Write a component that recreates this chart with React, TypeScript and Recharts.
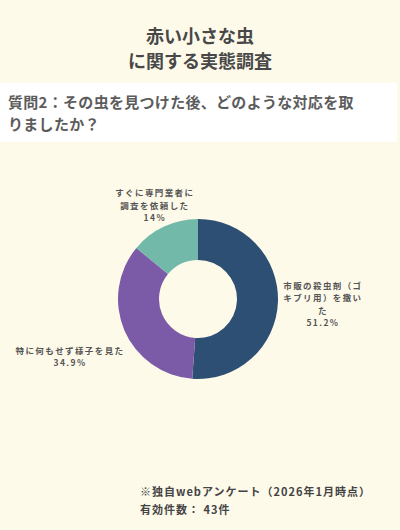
import { PieChart, Pie, Cell } from 'recharts';

const categories = [
  '市販の殺虫剤（ゴ\nキブリ用）を撒い\nた',
  '特に何もせず様子を見た',
  'すぐに専門業者に\n調査を依頼した',
];
const shares = [51.2, 34.9, 14];
const sliceColors = ['#2d4f74', '#7b5aa8', '#72b9a9'];
// small hand nudges so the labels sit where the original put them
const labelNudge = [
  [0, 0],
  [-13, 8],
  [10, 19],
];

const data = categories.map((name, i) => ({ name, value: shares[i] }));

const FONT = '"Noto Sans CJK JP", "Noto Sans", sans-serif';
const RADIAN = Math.PI / 180;

const renderLabel = (props: any) => {
  const { cx, cy, midAngle, outerRadius, index } = props;
  const r = outerRadius + 45;
  const x = cx + r * Math.cos(-midAngle * RADIAN) + labelNudge[index][0];
  const y = cy + r * Math.sin(-midAngle * RADIAN) + labelNudge[index][1];
  const lines = [...categories[index].split('\n'), `${shares[index]}%`];
  const lh = 12.4;
  const top = y - ((lines.length - 1) * lh) / 2;
  return (
    <text
      x={x}
      y={top}
      textAnchor="middle"
      dominantBaseline="central"
      fill="#555"
      fontSize={8.5}
      fontWeight={700}
      fontFamily={FONT}
      style={{ letterSpacing: 1.4 }}
    >
      {lines.map((l, i) => (
        <tspan key={i} x={x} y={top + i * lh}>
          {l}
        </tspan>
      ))}
    </text>
  );
};

export default function App() {
  return (
    <div
      style={{
        position: 'absolute',
        left: 0,
        top: 0,
        width: 400,
        height: 530,
        background: '#fefaea',
        fontFamily: FONT,
        overflow: 'hidden',
      }}
    >
      <div
        style={{
          position: 'absolute',
          top: 23,
          left: 0,
          width: 400,
          textAlign: 'center',
          fontSize: 18,
          lineHeight: '25px',
          fontWeight: 700,
          color: '#484848',
        }}
      >
        赤い小さな虫
        <br />
        に関する実態調査
      </div>
      <div
        style={{
          position: 'absolute',
          top: 83,
          left: 0,
          width: 397,
          height: 59,
          background: '#ffffff',
        }}
      />
      <div
        style={{
          position: 'absolute',
          top: 91,
          left: 8,
          width: 385,
          fontSize: 15,
          lineHeight: '22px',
          fontWeight: 700,
          color: '#5c5c5c',
          letterSpacing: 0.3,
        }}
      >
        質問2：その虫を見つけた後、どのような対応を取
        <br />
        りましたか？
      </div>
      <div style={{ position: 'absolute', left: 0, top: 0 }}>
        <PieChart width={400} height={530}>
          <Pie
            data={data}
            dataKey="value"
            nameKey="name"
            cx={193}
            cy={294}
            innerRadius={39}
            outerRadius={80}
            startAngle={90}
            endAngle={-270}
            stroke="none"
            label={renderLabel}
            labelLine={false}
            isAnimationActive={false}
          >
            {data.map((_, i) => (
              <Cell key={i} fill={sliceColors[i]} />
            ))}
          </Pie>
        </PieChart>
      </div>
      <div
        style={{
          position: 'absolute',
          top: 482,
          left: 140,
          fontSize: 11,
          lineHeight: '18px',
          fontWeight: 700,
          color: '#444',
          letterSpacing: 1,
        }}
      >
        ※独自webアンケート（2026年1月時点）
        <br />
        有効件数： 43件
      </div>
    </div>
  );
}
